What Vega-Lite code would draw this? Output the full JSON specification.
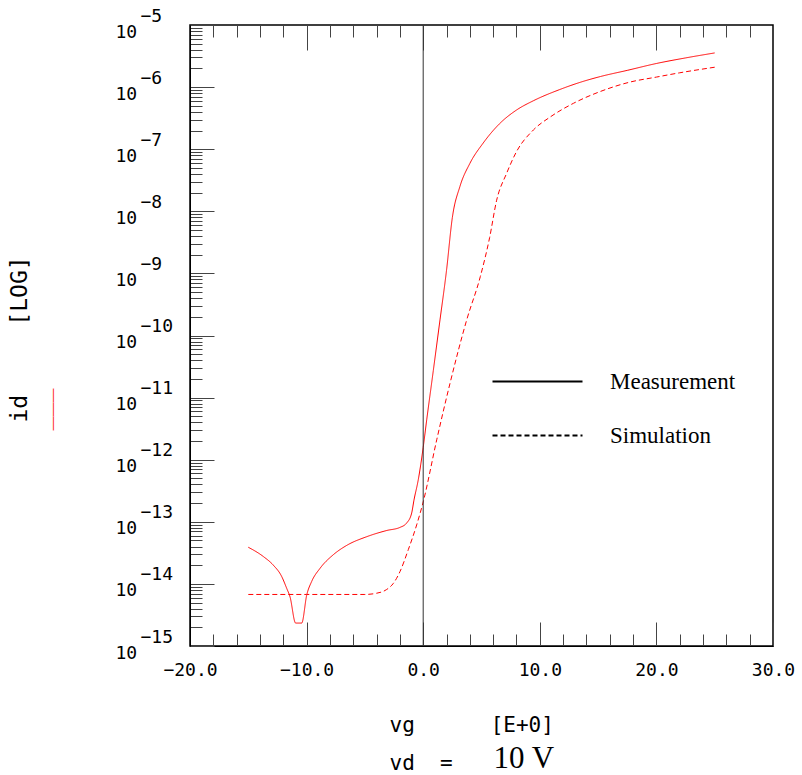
{
  "$schema": "https://vega.github.io/schema/vega-lite/v6.json",
  "width": 583,
  "height": 621,
  "autosize": {"type": "none"},
  "padding": {"left": 190, "top": 25, "right": 29, "bottom": 129},
  "background": "white",
  "config": {
    "view": {"stroke": "black", "strokeWidth": 1.5},
    "axis": {"grid": false, "labelFlush": false, "labelOverlap": false, "labelBound": false, "domainColor": "black", "tickColor": "#444", "labelColor": "black", "titleColor": "black", "titleFontWeight": "normal", "labelFont": "DejaVu Sans Mono", "labelFontSize": 18}
  },
  "datasets": {
    "curves": [
      {"vg": -15.0, "id": 3.89e-14, "series": "Measurement"},
      {"vg": -13.7, "id": 2.75e-14, "series": "Measurement"},
      {"vg": -12.85, "id": 2.00e-14, "series": "Measurement"},
      {"vg": -12.14, "id": 1.32e-14, "series": "Measurement"},
      {"vg": -11.71, "id": 8.51e-15, "series": "Measurement"},
      {"vg": -11.42, "id": 6.17e-15, "series": "Measurement"},
      {"vg": -10.94, "id": 2.34e-15, "series": "Measurement"},
      {"vg": -10.42, "id": 2.34e-15, "series": "Measurement"},
      {"vg": -9.99, "id": 6.61e-15, "series": "Measurement"},
      {"vg": -9.56, "id": 1.10e-14, "series": "Measurement"},
      {"vg": -8.85, "id": 1.78e-14, "series": "Measurement"},
      {"vg": -7.71, "id": 2.95e-14, "series": "Measurement"},
      {"vg": -6.56, "id": 4.17e-14, "series": "Measurement"},
      {"vg": -4.85, "id": 5.75e-14, "series": "Measurement"},
      {"vg": -3.13, "id": 7.24e-14, "series": "Measurement"},
      {"vg": -1.99, "id": 8.13e-14, "series": "Measurement"},
      {"vg": -1.42, "id": 9.55e-14, "series": "Measurement"},
      {"vg": -0.99, "id": 1.38e-13, "series": "Measurement"},
      {"vg": -0.79, "id": 2.24e-13, "series": "Measurement"},
      {"vg": -0.42, "id": 4.79e-13, "series": "Measurement"},
      {"vg": 0.0, "id": 1.58e-12, "series": "Measurement"},
      {"vg": 0.3, "id": 4.37e-12, "series": "Measurement"},
      {"vg": 0.87, "id": 2.75e-11, "series": "Measurement"},
      {"vg": 1.44, "id": 1.78e-10, "series": "Measurement"},
      {"vg": 2.0, "id": 1.12e-9, "series": "Measurement"},
      {"vg": 2.5, "id": 7.94e-9, "series": "Measurement"},
      {"vg": 3.15, "id": 2.51e-8, "series": "Measurement"},
      {"vg": 4.0, "id": 5.89e-8, "series": "Measurement"},
      {"vg": 5.15, "id": 1.26e-7, "series": "Measurement"},
      {"vg": 6.6, "id": 2.63e-7, "series": "Measurement"},
      {"vg": 8.0, "id": 4.27e-7, "series": "Measurement"},
      {"vg": 9.45, "id": 6.03e-7, "series": "Measurement"},
      {"vg": 11.7, "id": 9.12e-7, "series": "Measurement"},
      {"vg": 13.5, "id": 1.20e-6, "series": "Measurement"},
      {"vg": 15.2, "id": 1.48e-6, "series": "Measurement"},
      {"vg": 17.5, "id": 1.86e-6, "series": "Measurement"},
      {"vg": 20.0, "id": 2.40e-6, "series": "Measurement"},
      {"vg": 22.5, "id": 2.95e-6, "series": "Measurement"},
      {"vg": 25.0, "id": 3.55e-6, "series": "Measurement"},
      {"vg": -15.0, "id": 6.76e-15, "series": "Simulation"},
      {"vg": -10.0, "id": 6.76e-15, "series": "Simulation"},
      {"vg": -5.0, "id": 6.76e-15, "series": "Simulation"},
      {"vg": -3.99, "id": 7.08e-15, "series": "Simulation"},
      {"vg": -3.13, "id": 8.13e-15, "series": "Simulation"},
      {"vg": -2.56, "id": 1.02e-14, "series": "Simulation"},
      {"vg": -1.99, "id": 1.58e-14, "series": "Simulation"},
      {"vg": -1.28, "id": 3.55e-14, "series": "Simulation"},
      {"vg": -0.56, "id": 8.91e-14, "series": "Simulation"},
      {"vg": 0.0, "id": 2.09e-13, "series": "Simulation"},
      {"vg": 1.16, "id": 2.09e-12, "series": "Simulation"},
      {"vg": 2.3, "id": 1.70e-11, "series": "Simulation"},
      {"vg": 3.73, "id": 1.78e-10, "series": "Simulation"},
      {"vg": 4.9, "id": 8.91e-10, "series": "Simulation"},
      {"vg": 5.7, "id": 3.80e-9, "series": "Simulation"},
      {"vg": 6.3, "id": 1.51e-8, "series": "Simulation"},
      {"vg": 7.15, "id": 4.07e-8, "series": "Simulation"},
      {"vg": 8.0, "id": 9.12e-8, "series": "Simulation"},
      {"vg": 9.45, "id": 2.04e-7, "series": "Simulation"},
      {"vg": 10.9, "id": 3.31e-7, "series": "Simulation"},
      {"vg": 12.9, "id": 5.50e-7, "series": "Simulation"},
      {"vg": 15.2, "id": 8.51e-7, "series": "Simulation"},
      {"vg": 17.7, "id": 1.20e-6, "series": "Simulation"},
      {"vg": 20.0, "id": 1.45e-6, "series": "Simulation"},
      {"vg": 22.0, "id": 1.70e-6, "series": "Simulation"},
      {"vg": 25.0, "id": 2.09e-6, "series": "Simulation"}
    ]
  },
  "layer": [
    {
      "data": {"name": "curves"},
      "transform": [{"filter": "datum.series === 'Measurement'"}],
      "mark": {"type": "line", "color": "#ff0000", "strokeWidth": 1, "interpolate": "monotone"},
      "encoding": {
        "x": {
          "field": "vg", "type": "quantitative",
          "scale": {"domain": [-20, 30], "nice": false, "zero": false},
          "axis": {
            "orient": "bottom",
            "values": [-20, -18, -16, -14, -12, -10, -8, -6, -4, -2, 0, 2, 4, 6, 8, 10, 12, 14, 16, 18, 20, 22, 24, 26, 28, 30],
            "tickSize": {"condition": {"test": "datum.value % 10 == 0", "value": -24}, "value": -12},
            "labelExpr": "datum.value % 10 == 0 ? format(datum.value, '.1f') : ''",
            "labelPadding": 39,
            "title": ["vg\u00a0\u00a0\u00a0\u00a0\u00a0\u00a0[E+0]", "vd\u00a0\u00a0="],
            "titleFont": "DejaVu Sans Mono",
            "titleFontSize": 21,
            "titleX": 199,
            "titleY": 85,
            "titleAlign": "left",
            "titleBaseline": "alphabetic",
            "titleLineHeight": 38
          }
        },
        "y": {
          "field": "id", "type": "quantitative",
          "scale": {"type": "log", "domain": [1e-15, 1e-5], "nice": false},
          "axis": {
            "orient": "left",
            "values": [1e-15, 2e-15, 3e-15, 4e-15, 5e-15, 6e-15, 7e-15, 8e-15, 9e-15,
                       1e-14, 2e-14, 3e-14, 4e-14, 5e-14, 6e-14, 7e-14, 8e-14, 9e-14,
                       1e-13, 2e-13, 3e-13, 4e-13, 5e-13, 6e-13, 7e-13, 8e-13, 9e-13,
                       1e-12, 2e-12, 3e-12, 4e-12, 5e-12, 6e-12, 7e-12, 8e-12, 9e-12,
                       1e-11, 2e-11, 3e-11, 4e-11, 5e-11, 6e-11, 7e-11, 8e-11, 9e-11,
                       1e-10, 2e-10, 3e-10, 4e-10, 5e-10, 6e-10, 7e-10, 8e-10, 9e-10,
                       1e-9, 2e-9, 3e-9, 4e-9, 5e-9, 6e-9, 7e-9, 8e-9, 9e-9,
                       1e-8, 2e-8, 3e-8, 4e-8, 5e-8, 6e-8, 7e-8, 8e-8, 9e-8,
                       1e-7, 2e-7, 3e-7, 4e-7, 5e-7, 6e-7, 7e-7, 8e-7, 9e-7,
                       1e-6, 2e-6, 3e-6, 4e-6, 5e-6, 6e-6, 7e-6, 8e-6, 9e-6, 1e-5],
            "tickSize": {"condition": {"test": "abs(log(datum.value)/LN10 - round(log(datum.value)/LN10)) < 0.01", "value": -24}, "value": -12},
            "labelExpr": "abs(log(datum.value)/LN10 - round(log(datum.value)/LN10)) < 0.01 ? '10' : ''",
            "labelAlign": "left",
            "labelBaseline": "middle",
            "labelPadding": 99,
            "labelOffset": 7,
            "title": "id\u00a0\u00a0\u00a0\u00a0\u00a0[LOG]",
            "titleFont": "DejaVu Sans Mono",
            "titleFontSize": 23,
            "titleAngle": 270,
            "titleX": -171,
            "titleY": 314,
            "titleAlign": "center",
            "titleBaseline": "middle"
          }
        },
        "strokeDash": {
          "field": "series", "type": "nominal",
          "scale": {"domain": ["Measurement", "Simulation"], "range": [[1, 0], [5, 3]]},
          "legend": {
            "orient": "none",
            "legendX": 336,
            "legendY": 345,
            "title": null,
            "padding": 0,
            "symbolType": "M-4.5,0H4.5",
            "symbolSize": 400,
            "symbolStrokeColor": "black",
            "symbolFillColor": "transparent",
            "symbolStrokeWidth": 2,
            "labelFont": "Liberation Serif",
            "labelFontSize": 23,
            "labelColor": "black",
            "labelOffset": 61,
            "rowPadding": 30,
            "encode": {
              "symbols": {
                "update": {
                  "stroke": {"value": "black"},
                  "strokeDash": {"signal": "datum.value === 'Simulation' ? [4, 9] : [1, 0]"}
                }
              }
            }
          }
        }
      }
    },
    {
      "data": {"name": "curves"},
      "transform": [{"filter": "datum.series === 'Simulation'"}],
      "mark": {"type": "line", "color": "#ff0000", "strokeWidth": 1, "interpolate": "monotone"},
      "encoding": {
        "x": {
          "field": "vg", "type": "quantitative",
          "axis": {
            "orient": "top",
            "values": [-18, -16, -14, -12, -10, -8, -6, -4, -2, 0, 2, 4, 6, 8, 10, 12, 14, 16, 18, 20, 22, 24, 26, 28],
            "tickSize": {"condition": {"test": "datum.value % 10 == 0", "value": -25}, "value": -12},
            "labels": false,
            "domain": false,
            "title": null
          }
        },
        "y": {
          "field": "id", "type": "quantitative",
          "axis": {
            "orient": "left",
            "values": [1e-15, 1e-14, 1e-13, 1e-12, 1e-11, 1e-10, 1e-9, 1e-8, 1e-7, 1e-6, 1e-5],
            "ticks": false,
            "domain": false,
            "labelExpr": "'\u2212' + round(-log(datum.value)/LN10)",
            "labelAlign": "left",
            "labelBaseline": "middle",
            "labelPadding": 50,
            "labelOffset": -9,
            "title": "\u2014\u2014\u2014",
            "titleFont": "Liberation Sans",
            "titleFontSize": 14,
            "titleColor": "#ff3030",
            "titleAngle": 270,
            "titleX": -138,
            "titleY": 384,
            "titleAlign": "center",
            "titleBaseline": "middle"
          }
        },
        "strokeDash": {"field": "series", "type": "nominal"}
      }
    },
    {
      "data": {"values": [{"vg": 0}]},
      "mark": {"type": "rule", "color": "#333", "strokeWidth": 1},
      "encoding": {
        "x": {
          "field": "vg", "type": "quantitative",
          "axis": {
            "orient": "bottom",
            "labels": false,
            "ticks": false,
            "domain": false,
            "title": "10 V",
            "titleFont": "Liberation Serif",
            "titleFontSize": 31,
            "titleX": 303,
            "titleY": 121,
            "titleAlign": "left",
            "titleBaseline": "alphabetic"
          }
        }
      }
    }
  ],
  "resolve": {"axis": {"x": "independent", "y": "independent"}}
}
